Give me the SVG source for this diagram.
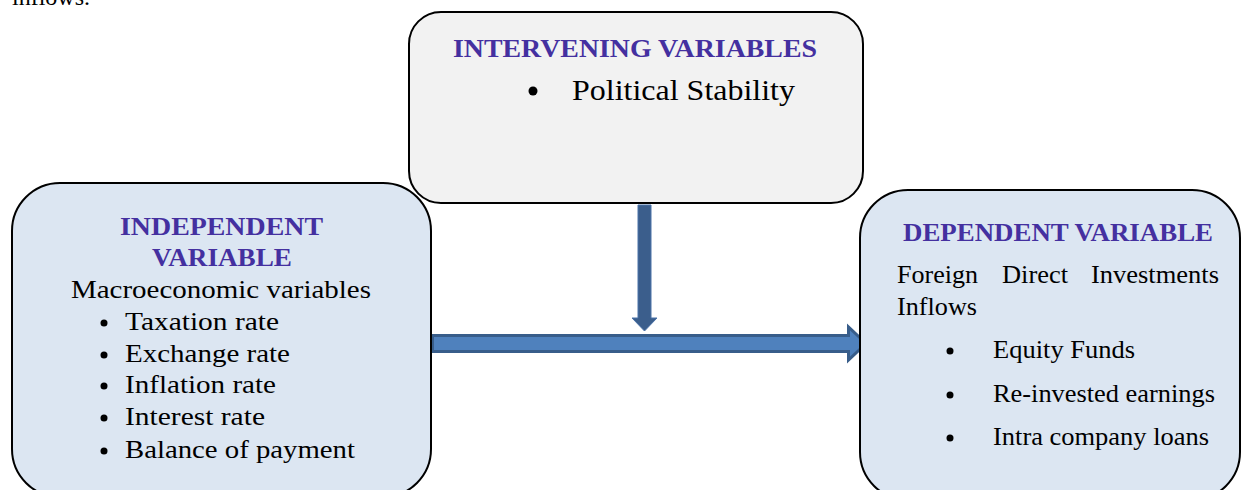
<svg xmlns="http://www.w3.org/2000/svg" width="1241" height="490" viewBox="0 0 1241 490">
<style>
.box{stroke:#000;stroke-width:2}
.t{font-family:"Liberation Serif","Times New Roman",serif;fill:#000}
.h{font-family:"Liberation Serif","Times New Roman",serif;font-weight:bold;fill:#4430a0}
.b{font-family:"Liberation Serif","Times New Roman",serif;fill:#000}
.arr{fill:#4f81bd;stroke:#385d8a;stroke-width:3;stroke-linejoin:miter}
</style>
<rect width="1241" height="490" fill="#fff"/>
<text class="t" x="12" y="5" font-size="24">inflows.</text>
<g id="connectors">
<path class="arr" d="M432.5,335.5 H848.5 V327 L866,343.5 L848.5,360 V351.5 H432.5 Z"/>
<path d="M638,205 H651 V318 H657 L644.5,331 L632,318 H638 Z" fill="#3b5e8c" stroke="#4a72a8" stroke-width="1"/>
</g>
<g id="intervening">
<rect class="box" x="409" y="12" width="454" height="191" rx="32" fill="#f2f2f2"/>
<text class="h" x="453" y="57" font-size="25" textLength="364" lengthAdjust="spacingAndGlyphs">INTERVENING VARIABLES</text>
<circle cx="533" cy="91" r="4.5" fill="#000"/>
<text class="t" x="572" y="100" font-size="29" textLength="223" lengthAdjust="spacingAndGlyphs">Political Stability</text>
</g>
<g id="independent">
<rect class="box" x="12" y="183" width="419" height="314" rx="48" fill="#dce6f2"/>
<text class="h" x="120" y="235" font-size="25" textLength="203" lengthAdjust="spacingAndGlyphs">INDEPENDENT</text>
<text class="h" x="152" y="266" font-size="25" textLength="140" lengthAdjust="spacingAndGlyphs">VARIABLE</text>
<text class="t" x="71" y="298" font-size="25" textLength="300" lengthAdjust="spacingAndGlyphs">Macroeconomic variables</text>
<g fill="#000">
<circle cx="104" cy="323" r="3.5"/>
<circle cx="104" cy="355" r="3.5"/>
<circle cx="104" cy="386" r="3.5"/>
<circle cx="104" cy="418" r="3.5"/>
<circle cx="104" cy="451" r="3.5"/>
</g>
<text class="t" x="125" y="330" font-size="25" textLength="154" lengthAdjust="spacingAndGlyphs">Taxation rate</text>
<text class="t" x="125" y="362" font-size="25" textLength="165" lengthAdjust="spacingAndGlyphs">Exchange rate</text>
<text class="t" x="125" y="393" font-size="25" textLength="151" lengthAdjust="spacingAndGlyphs">Inflation rate</text>
<text class="t" x="125" y="425" font-size="25" textLength="140" lengthAdjust="spacingAndGlyphs">Interest rate</text>
<text class="t" x="125" y="458" font-size="25" textLength="230" lengthAdjust="spacingAndGlyphs">Balance of payment</text>
</g>
<g id="dependent">
<rect class="box" x="860" y="190" width="380" height="310" rx="48" fill="#dce6f2"/>
<text class="h" x="903" y="241" font-size="25" textLength="310" lengthAdjust="spacingAndGlyphs">DEPENDENT VARIABLE</text>
<text class="t" x="897" y="283" font-size="25" textLength="81" lengthAdjust="spacingAndGlyphs">Foreign</text>
<text class="t" x="1002" y="283" font-size="25" textLength="66" lengthAdjust="spacingAndGlyphs">Direct</text>
<text class="t" x="1091" y="283" font-size="25" textLength="128" lengthAdjust="spacingAndGlyphs">Investments</text>
<text class="t" x="897" y="315" font-size="25" textLength="80" lengthAdjust="spacingAndGlyphs">Inflows</text>
<g fill="#000">
<circle cx="950" cy="351" r="3.5"/>
<circle cx="950" cy="395" r="3.5"/>
<circle cx="950" cy="438" r="3.5"/>
</g>
<text class="t" x="993" y="358" font-size="25" textLength="142" lengthAdjust="spacingAndGlyphs">Equity Funds</text>
<text class="t" x="993" y="402" font-size="25" textLength="222" lengthAdjust="spacingAndGlyphs">Re-invested earnings</text>
<text class="t" x="993" y="445" font-size="25" textLength="216" lengthAdjust="spacingAndGlyphs">Intra company loans</text>
</g>
</svg>
